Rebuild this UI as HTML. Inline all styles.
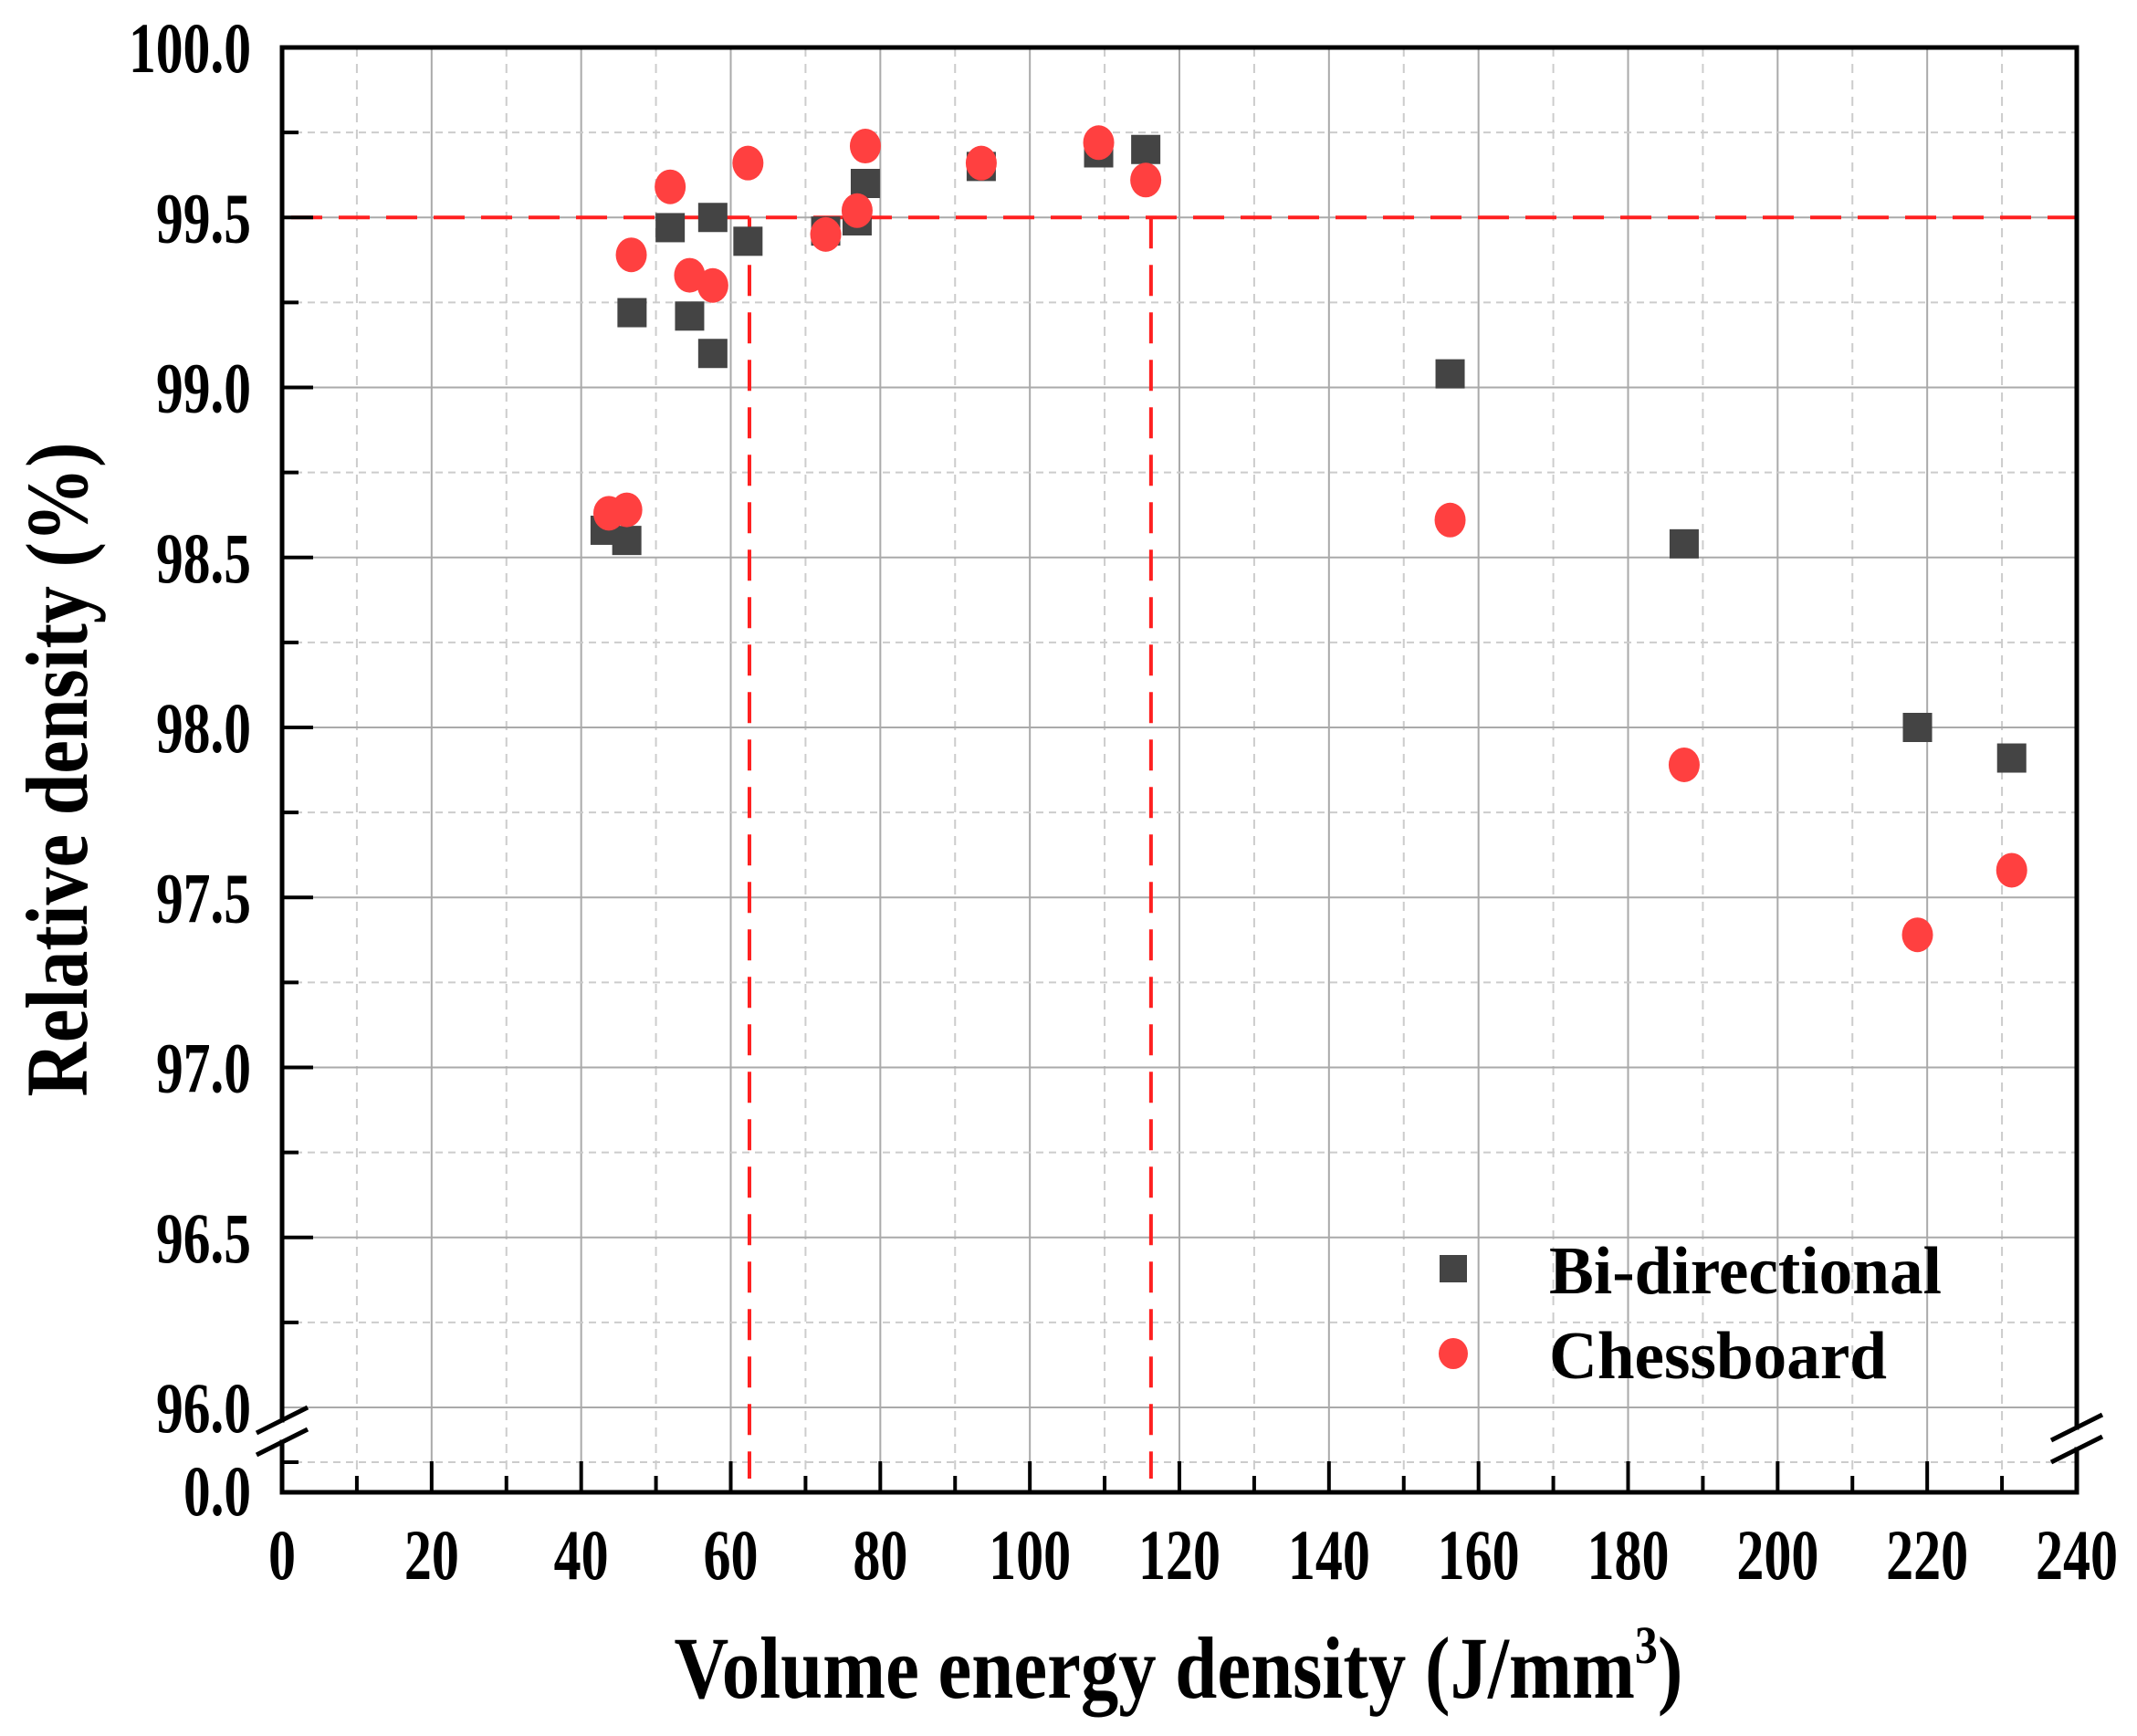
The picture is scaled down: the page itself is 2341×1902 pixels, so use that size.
<!DOCTYPE html>
<html><head><meta charset="utf-8"><style>
html,body{margin:0;padding:0;background:#fff}
svg{display:block;font-family:"Liberation Serif",serif;font-weight:bold}
</style></head><body>
<svg id="chart" width="2341" height="1902" viewBox="0 0 2341 1902" xmlns="http://www.w3.org/2000/svg">
<g id="grid"></g>
<g id="refs"></g>
<g id="marks"></g>
<g id="axes"></g>
<text x="1291" y="1860" font-size="96" text-anchor="middle" textLength="1105" lengthAdjust="spacingAndGlyphs">Volume energy density (J/mm<tspan font-size="58" dy="-38">3</tspan><tspan dy="38">)</tspan></text>
<text transform="translate(95,843) rotate(-90)" font-size="96" text-anchor="middle" textLength="717" lengthAdjust="spacingAndGlyphs">Relative density (%)</text>
<g>
  <rect x="1577" y="1375" width="30" height="30" fill="#444"/>
  <text x="1697" y="1417" font-size="74" textLength="430" lengthAdjust="spacingAndGlyphs">Bi-directional</text>
  <ellipse cx="1592" cy="1483" rx="16" ry="17" fill="#ff4040"/>
  <text x="1697" y="1510" font-size="74" textLength="370" lengthAdjust="spacingAndGlyphs">Chessboard</text>
</g>
</svg>
<script>
const xTicks = [0,20,40,60,80,100,120,140,160,180,200,220,240];
const yTicks = [96.0,96.5,97.0,97.5,98.0,98.5,99.0,99.5,100.0];
const biX = [43.2,46.1,46.8,51.9,54.5,57.6,57.6,62.3,72.7,76.9,78.0,93.5,109.2,115.5,156.2,187.5,218.7,231.3];
const biY = [98.58,98.55,99.22,99.47,99.21,99.50,99.10,99.43,99.46,99.49,99.60,99.65,99.69,99.70,99.04,98.54,98.00,97.91];
const chX = [43.7,46.1,46.7,51.9,54.5,57.6,62.3,72.7,76.9,78.0,93.5,109.2,115.5,156.2,187.5,218.7,231.3];
const chY = [98.63,98.64,99.39,99.59,99.33,99.30,99.66,99.45,99.52,99.71,99.66,99.72,99.61,98.61,97.89,97.39,97.58];
const refY = [99.5];
const refX = [62.5,116.2];

const NS="http://www.w3.org/2000/svg";
const L=309,R=2275,T=52,B=1635,Y96=1542,Y0=1602;
const sx=v=>L+(v-0)/(240-0)*(R-L);
const sy=v=>T+(100-v)/(100-96)*(Y96-T);
function mk(tag,attrs,parent){const e=document.createElementNS(NS,tag);for(const k in attrs)e.setAttribute(k,attrs[k]);parent.appendChild(e);return e;}
function lw(s){let w=0;for(const c of s)w+=(c==='.'?14:30);return w;}
const grid=document.getElementById('grid'),axes=document.getElementById('axes'),marks=document.getElementById('marks'),refs=document.getElementById('refs');

for(let v=10;v<240;v+=10){
  const major=v%20===0;
  const e=mk('line',{x1:sx(v),x2:sx(v),y1:T,y2:B,stroke:major?'#aaa':'#ccc','stroke-width':2,'stroke-dasharray':major?'none':'10 8'},grid);
  
  
}
for(let v=96.0;v<100;v+=0.25){
  const major=Math.abs(v*2-Math.round(v*2))<1e-6;
  const e=mk('line',{x1:L,x2:R,y1:sy(v),y2:sy(v),stroke:major?'#aaa':'#ccc','stroke-width':2,'stroke-dasharray':major?'none':'8 6'},grid);
  
  
}
{const e=mk('line',{x1:L,x2:R,y1:Y0,y2:Y0,stroke:'#ccc','stroke-width':2,'stroke-dasharray':'8 6'},grid);

}

refY.forEach(v=>{const e=mk('line',{x1:L+10,x2:R,y1:sy(v),y2:sy(v),stroke:'#ff2020','stroke-width':4,'stroke-dasharray':'34 18'},refs);

});
refX.forEach(v=>{const e=mk('line',{x1:sx(v),x2:sx(v),y1:sy(99.5),y2:B-15,stroke:'#ff2020','stroke-width':4,'stroke-dasharray':'34 18'},refs);

});

biX.forEach((x,i)=>{const e=mk('rect',{x:sx(x)-16,y:sy(biY[i])-16,width:32,height:32,fill:'#444'},marks);

});
chX.forEach((x,i)=>{const e=mk('ellipse',{cx:sx(x),cy:sy(chY[i]),rx:17,ry:19,fill:'#ff4040'},marks);

});

const gapTop=1556,gapBot=1580;
[[L,T,R,T],[L,B,R,B],[L,T,L,gapTop],[L,gapBot,L,B],[R,T,R,gapTop+8],[R,gapBot+8,R,B]].forEach(s=>{
  const e=mk('line',{x1:s[0],y1:s[1],x2:s[2],y2:s[3],stroke:'#000','stroke-width':5,'stroke-linecap':'square'},axes);
  
  
});
[[L,gapTop],[L,gapBot],[R,gapTop+8],[R,gapBot+8]].forEach(p=>{
  const e=mk('line',{x1:p[0]-28,y1:p[1]+14,x2:p[0]+28,y2:p[1]-14,stroke:'#000','stroke-width':5},axes);
  
  
});
for(let v=10;v<240;v+=10){
  const major=v%20===0;
  const e=mk('line',{x1:sx(v),x2:sx(v),y1:B,y2:B-(major?34:18),stroke:'#000','stroke-width':4},axes);
  
  
}
xTicks.forEach(v=>{const s=String(v);const t=mk('text',{x:sx(v),y:1730,'font-size':78,'text-anchor':'middle',textLength:lw(s),lengthAdjust:'spacingAndGlyphs'},axes);t.textContent=s;

});
for(let v=96.25;v<100;v+=0.25){
  const major=Math.abs(v*2-Math.round(v*2))<1e-6;
  const e=mk('line',{x1:L,x2:L+(major?34:18),y1:sy(v),y2:sy(v),stroke:'#000','stroke-width':4},axes);
  
  
}
{const e=mk('line',{x1:L,x2:L+18,y1:Y0,y2:Y0,stroke:'#000','stroke-width':4},axes);

}
yTicks.forEach(v=>{const s=v.toFixed(1);const t=mk('text',{x:275,y:sy(v)+27,'font-size':78,'text-anchor':'end',textLength:lw(s),lengthAdjust:'spacingAndGlyphs'},axes);t.textContent=s;

});
{const t=mk('text',{x:275,y:1660,'font-size':78,'text-anchor':'end',textLength:lw('0.0'),lengthAdjust:'spacingAndGlyphs'},axes);t.textContent='0.0';

}
</script>
</body></html>
